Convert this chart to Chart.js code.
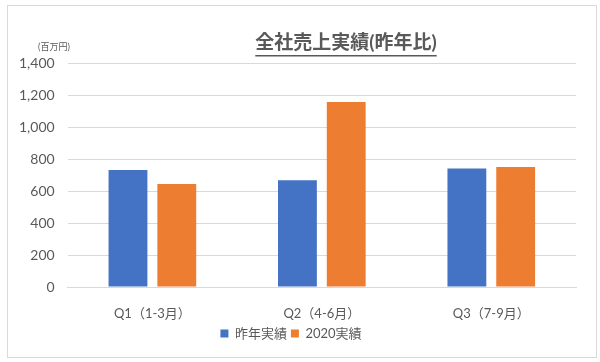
<!DOCTYPE html>
<html>
<head>
    <meta charset="utf-8">
    <title>全社売上実績(昨年比)</title>
    <style>
        body {
            margin: 0;
            background-color: #fff;
        }

        #chart-container {
            width: 600px;
            height: 362px;
        }
    </style>
</head>
<body>
    <div id="chart-container">
        <canvas id="chart"></canvas>
    </div>

    <script src="https://cdn.jsdelivr.net/npm/chart.js"></script>
    <script>
        const quarters = ['Q1（1-3月）', 'Q2（4-6月）', 'Q3（7-9月）'];
        const lastYearSales = [731, 667, 740];
        const sales2020 = [644, 1156, 750];
        const yTicks = [0, 200, 400, 600, 800, 1000, 1200, 1400];

        const textColor = '#595959';
        const fontFamily = "Lato, 'Noto Sans CJK JP', sans-serif";

        // frame, title with underline, unit label
        const decorations = {
            id: 'decorations',
            beforeDraw(chart) {
                const ctx = chart.ctx;
                ctx.save();
                ctx.fillStyle = '#fff';
                ctx.fillRect(0, 0, chart.width, chart.height);
                ctx.strokeStyle = '#D9D9D9';
                ctx.lineWidth = 1;
                ctx.strokeRect(7.5, 5.5, 589, 352);
                ctx.restore();
            },
            afterDraw(chart) {
                const ctx = chart.ctx;
                ctx.save();
                ctx.fillStyle = textColor;
                ctx.font = "bold 19px " + fontFamily;
                ctx.textAlign = 'center';
                ctx.textBaseline = 'middle';
                const title = '全社売上実績(昨年比)';
                const cx = 346;
                ctx.fillText(title, cx, 43);
                const w = ctx.measureText(title).width;
                ctx.fillRect(cx - w / 2, 55, w, 1.5);

                ctx.font = "9px " + fontFamily;
                ctx.textAlign = 'left';
                ctx.fillText('(百万円)', 38, 47);
                ctx.restore();
            }
        };

        const ctx = document.getElementById('chart').getContext('2d');
        const chart = new Chart(ctx, {
            type: 'bar',
            data: {
                labels: quarters,
                datasets: [{
                    label: '昨年実績',
                    data: lastYearSales,
                    backgroundColor: '#4472C4'
                }, {
                    label: '2020実績',
                    data: sales2020,
                    backgroundColor: '#ED7D31'
                }]
            },
            options: {
                responsive: true,
                maintainAspectRatio: false,
                animation: false,
                layout: {
                    padding: { top: 63, left: 6, right: 24, bottom: 12 }
                },
                datasets: {
                    bar: {
                        categoryPercentage: 0.576,
                        barPercentage: 0.796
                    }
                },
                plugins: {
                    legend: {
                        position: 'bottom',
                        labels: {
                            boxWidth: 8,
                            boxHeight: 8,
                            padding: 4,
                            color: textColor,
                            font: { family: fontFamily, size: 13 }
                        }
                    },
                    tooltip: { enabled: false }
                },
                scales: {
                    x: {
                        grid: { display: false },
                        border: { color: '#D9D9D9' },
                        ticks: {
                            color: textColor,
                            padding: 11,
                            font: { family: fontFamily, size: 13 }
                        },
                        afterFit(scale) {
                            scale.height = 36;
                        }
                    },
                    y: {
                        min: 0,
                        max: 1400,
                        afterBuildTicks(axis) {
                            axis.ticks = yTicks.map(v => ({ value: v }));
                        },
                        grid: { color: '#D9D9D9', drawTicks: false },
                        border: { display: false },
                        ticks: {
                            color: textColor,
                            padding: 13,
                            font: { family: fontFamily, size: 14 },
                            callback: function (value) {
                                return value.toLocaleString('en-US');
                            }
                        }
                    }
                }
            },
            plugins: [decorations]
        });
    </script>
</body>
</html>
